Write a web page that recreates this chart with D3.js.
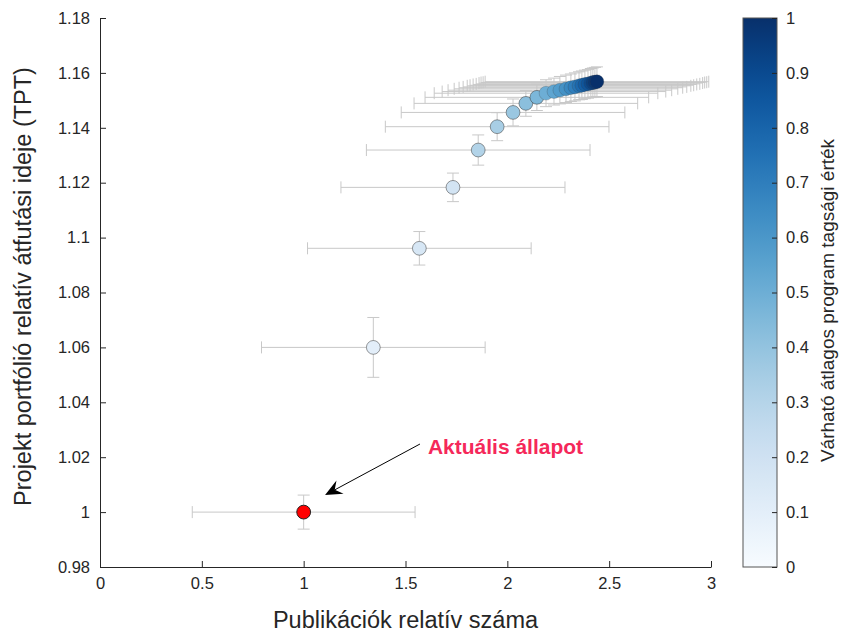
<!DOCTYPE html>
<html>
<head>
<meta charset="utf-8">
<script src="https://cdn.jsdelivr.net/npm/d3@7"></script>
<style>
  html, body { margin: 0; padding: 0; background: #ffffff; }
  svg { display: block; font-family: "Liberation Sans", Arial, Helvetica, sans-serif; }
</style>
</head>
<body>
<svg id="chart" width="844" height="635"></svg>
<script>
// Relative number of publications (x) for each program-membership step
const pubRel = [1.000, 1.342, 1.568, 1.733, 1.857, 1.950, 2.028, 2.091, 2.145, 2.190,
                2.229, 2.258, 2.288, 2.312, 2.332, 2.352, 2.366, 2.381, 2.396, 2.410,
                2.420, 2.430, 2.440];
// Relative portfolio throughput time (y)
const tptRel = [1.0000, 1.0600, 1.0961, 1.1183, 1.1319, 1.1404, 1.1456, 1.1489, 1.1511, 1.1526,
                1.1532, 1.1537, 1.1542, 1.1546, 1.1549, 1.1553, 1.1555, 1.1558, 1.1560, 1.1563,
                1.1565, 1.1566, 1.1568];
// Half-widths of the error bars
const pubErr = [0.547, 0.549, 0.549, 0.550, 0.549, 0.549, 0.549, 0.549, 0.549, 0.549,
                0.549, 0.549, 0.549, 0.549, 0.549, 0.549, 0.549, 0.549, 0.549, 0.549,
                0.549, 0.549, 0.549];
const tptErr = [0.0062, 0.0109, 0.0061, 0.0052, 0.0055, 0.0051, 0.0049, 0.0047, 0.0048, 0.0049,
                0.0049, 0.0050, 0.0050, 0.0050, 0.0051, 0.0051, 0.0052, 0.0052, 0.0052, 0.0053,
                0.0053, 0.0054, 0.0054];
// Expected average program membership value (colour)
const membership = [0.00, 0.10, 0.16, 0.18, 0.31, 0.34, 0.38, 0.42, 0.46, 0.50,
                    0.54, 0.58, 0.62, 0.66, 0.70, 0.74, 0.78, 0.82, 0.86, 0.90,
                    0.94, 0.97, 1.00];

const xTicks = [0, 0.5, 1, 1.5, 2, 2.5, 3];
const yTicks = [0.98, 1, 1.02, 1.04, 1.06, 1.08, 1.1, 1.12, 1.14, 1.16, 1.18];
const cbTicks = [0, 0.1, 0.2, 0.3, 0.4, 0.5, 0.6, 0.7, 0.8, 0.9, 1];

const xLabel = "Publikációk relatív száma";
const yLabel = "Projekt portfólió relatív átfutási ideje (TPT)";
const cbLabel = "Várható átlagos program tagsági érték";
// Annotation: text anchor and arrow from (x1,y1) to the tip (x2,y2), in data units
const noteText = "Aktuális állapot";
const notePos = [1.610, 1.0213];
const arrowFrom = [1.571, 1.0248];
const arrowTo = [1.105, 1.0062];

const svg = d3.select("#chart");
const plot = { left: 100, right: 711, top: 18, bottom: 567 };
const axisColor = "#262626";

const x = d3.scaleLinear().domain([0, 3]).range([plot.left, plot.right]);
const y = d3.scaleLinear().domain([0.98, 1.18]).range([plot.bottom, plot.top]);
const color = d3.scaleSequential(d3.interpolateBlues).domain([0, 1]);

// Axes (ticks pointing inward, no box)
const xAxis = svg.append("g")
  .attr("transform", `translate(0,${plot.bottom})`)
  .call(d3.axisBottom(x).tickValues(xTicks).tickFormat(d3.format("")).tickSizeInner(-6).tickSizeOuter(0).tickPadding(10));
const yAxis = svg.append("g")
  .attr("transform", `translate(${plot.left},0)`)
  .call(d3.axisLeft(y).tickValues(yTicks).tickFormat(d => d3.format("")(+d.toFixed(2))).tickSizeInner(-6).tickSizeOuter(0).tickPadding(10));
[xAxis, yAxis].forEach(g => {
  g.selectAll("path.domain").attr("stroke", axisColor).attr("stroke-width", 1);
  g.selectAll(".tick line").attr("stroke", axisColor).attr("stroke-width", 1);
  g.selectAll(".tick text").attr("fill", axisColor).style("font-size", "16.5px")
    .style("font-family", '"Liberation Sans", Arial, sans-serif');
});

svg.append("text")
  .attr("x", (plot.left + plot.right) / 2).attr("y", 628)
  .attr("text-anchor", "middle").attr("fill", axisColor)
  .style("font-size", "23.5px").text(xLabel);
svg.append("text")
  .attr("transform", `translate(31,${(plot.top + plot.bottom) / 2 - 6}) rotate(-90)`)
  .attr("text-anchor", "middle").attr("fill", axisColor)
  .style("font-size", "23.5px").text(yLabel);

const idx = d3.range(pubRel.length);
const capHalf = 6;
const errColor = "#c8c8c8";
const eb = svg.append("g").attr("stroke", errColor).attr("stroke-width", 1).attr("fill", "none");
idx.forEach(i => {
  const cx = x(pubRel[i]), cy = y(tptRel[i]);
  const x0 = x(pubRel[i] - pubErr[i]), x1 = x(pubRel[i] + pubErr[i]);
  const y0 = y(tptRel[i] - tptErr[i]), y1 = y(tptRel[i] + tptErr[i]);
  const g = eb.append("g");
  g.append("line").attr("x1", x0).attr("x2", x1).attr("y1", cy).attr("y2", cy);
  g.append("line").attr("x1", x0).attr("x2", x0).attr("y1", cy - capHalf).attr("y2", cy + capHalf);
  g.append("line").attr("x1", x1).attr("x2", x1).attr("y1", cy - capHalf).attr("y2", cy + capHalf);
  g.append("line").attr("x1", cx).attr("x2", cx).attr("y1", y0).attr("y2", y1);
  g.append("line").attr("x1", cx - capHalf).attr("x2", cx + capHalf).attr("y1", y0).attr("y2", y0);
  g.append("line").attr("x1", cx - capHalf).attr("x2", cx + capHalf).attr("y1", y1).attr("y2", y1);
});

// Markers: the current state in red, later steps coloured by membership
svg.append("g").selectAll("circle")
  .data(idx)
  .join("circle")
  .attr("cx", i => x(pubRel[i]))
  .attr("cy", i => y(tptRel[i]))
  .attr("r", 6.9)
  .attr("fill", i => i === 0 ? "#ff0000" : color(membership[i]))
  .attr("stroke", i => i === 0 ? "#222222" : "#3c3c3c")
  .attr("stroke-opacity", i => i === 0 ? 1 : (i < 9 ? 0.75 : 0.35))
  .attr("stroke-width", i => i === 0 ? 1 : 0.7);

// Annotation
svg.append("text")
  .attr("x", x(notePos[0])).attr("y", y(notePos[1]))
  .attr("fill", "#f5285a").style("font-size", "21px").style("font-weight", "bold")
  .text(noteText);

const ax1 = x(arrowFrom[0]), ay1 = y(arrowFrom[1]);
const ax2 = x(arrowTo[0]), ay2 = y(arrowTo[1]);
const ang = Math.atan2(ay2 - ay1, ax2 - ax1);
const headLen = 17, headW = 7.5, notch = 11;
const ux = Math.cos(ang), uy = Math.sin(ang);
const bx = ax2 - ux * headLen, by = ay2 - uy * headLen;
const nx = ax2 - ux * notch, ny = ay2 - uy * notch;
svg.append("line")
  .attr("x1", ax1).attr("y1", ay1).attr("x2", nx).attr("y2", ny)
  .attr("stroke", "#000").attr("stroke-width", 1);
svg.append("path")
  .attr("d", `M${ax2},${ay2} L${bx - uy * headW},${by + ux * headW} L${nx},${ny} L${bx + uy * headW},${by - ux * headW} Z`)
  .attr("fill", "#000");

// Colorbar
const cb = { left: 743, width: 34 };
const cbScale = d3.scaleLinear().domain([0, 1]).range([plot.bottom, plot.top]);
const defs = svg.append("defs");
const grad = defs.append("linearGradient").attr("id", "cbgrad")
  .attr("x1", 0).attr("y1", 1).attr("x2", 0).attr("y2", 0);
d3.range(0, 1.0001, 0.05).forEach(t => {
  grad.append("stop").attr("offset", t).attr("stop-color", color(t));
});
svg.append("rect")
  .attr("x", cb.left).attr("y", plot.top)
  .attr("width", cb.width).attr("height", plot.bottom - plot.top)
  .attr("fill", "url(#cbgrad)")
  .attr("stroke", "#555555").attr("stroke-width", 1);
const cbAxis = svg.append("g")
  .attr("transform", `translate(${cb.left + cb.width},0)`)
  .call(d3.axisRight(cbScale).tickValues(cbTicks).tickFormat(d => d3.format("")(+d.toFixed(1))).tickSizeInner(-5).tickSizeOuter(0).tickPadding(9));
cbAxis.select("path.domain").remove();
cbAxis.selectAll(".tick line").attr("stroke", axisColor);
cbAxis.selectAll(".tick text").attr("fill", axisColor).style("font-size", "16.5px")
  .style("font-family", '"Liberation Sans", Arial, sans-serif');

svg.append("text")
  .attr("transform", `translate(834,${(plot.top + plot.bottom) / 2 + 8}) rotate(-90)`)
  .attr("text-anchor", "middle").attr("fill", axisColor)
  .style("font-size", "19px").text(cbLabel);
</script>
</body>
</html>
